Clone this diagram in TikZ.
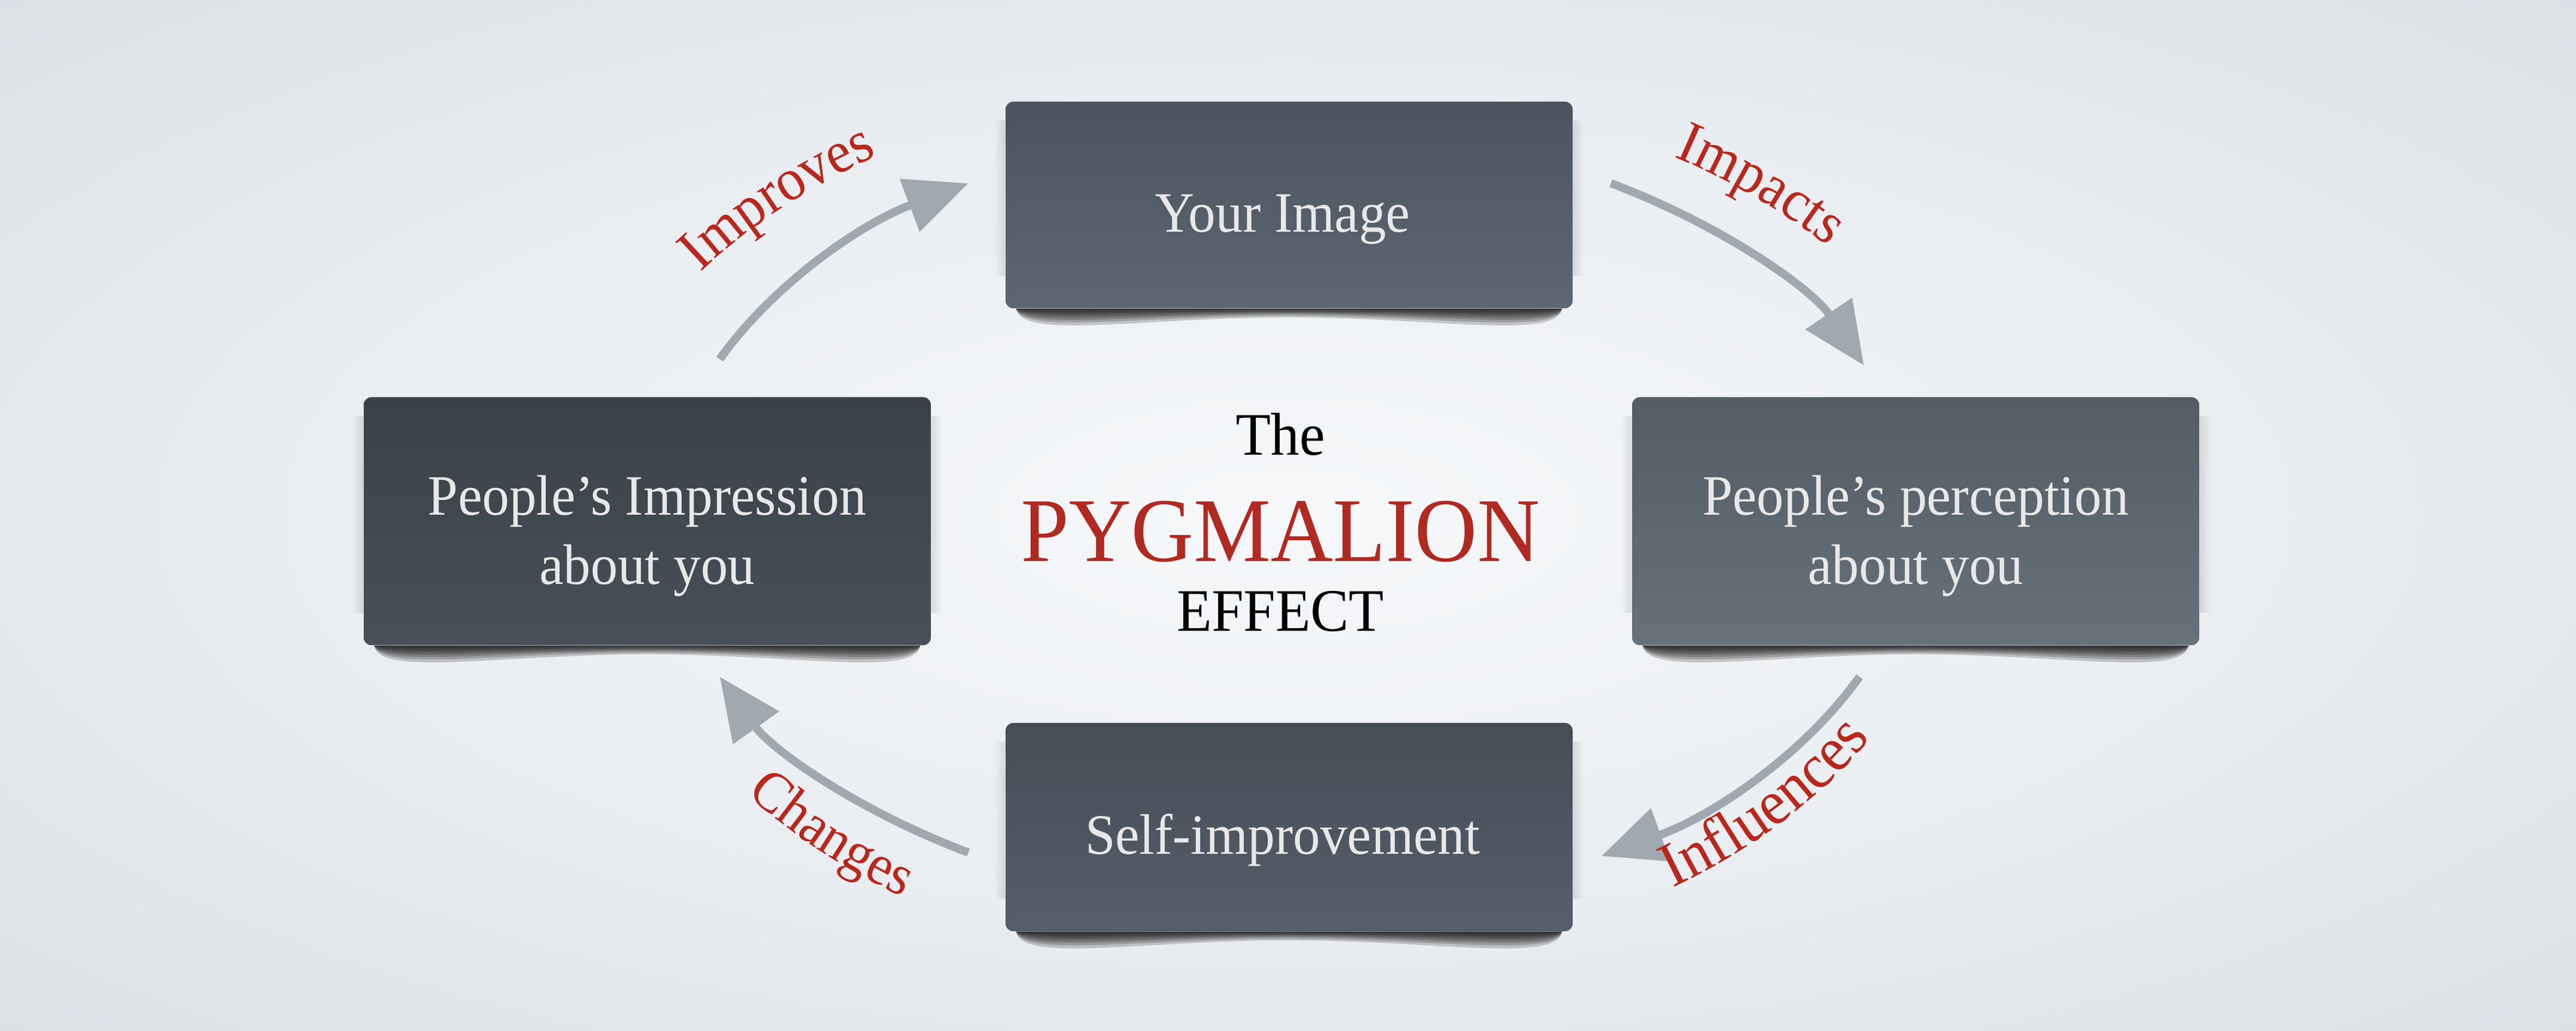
\documentclass[tikz,border=0pt]{standalone}
\usepackage{fontspec}
\setmainfont[FakeStretch=0.95]{Liberation Serif}
\usetikzlibrary{arrows.meta,decorations.text,fadings}

\definecolor{bgedge}{HTML}{C9D0D8}
\definecolor{bgmid}{HTML}{F6F8FA}
\definecolor{imgcol}{HTML}{5C6773}
\definecolor{percol}{HTML}{66717A}
\definecolor{imprcol}{HTML}{474F58}
\definecolor{selfcol}{HTML}{555E6A}
\definecolor{cardtext}{HTML}{E8E8E8}
\definecolor{flowgray}{HTML}{A0A8B0}
\definecolor{tagred}{HTML}{B8281D}
\definecolor{titlered}{HTML}{B02A22}

\pgfdeclareradialshading{bgglow}{\pgfpoint{0bp}{0bp}}{color(0bp)=(bgmid); color(18bp)=(bgmid!75!bgedge); color(38bp)=(bgmid!38!bgedge); color(55bp)=(bgmid!12!bgedge); color(71bp)=(bgedge)}
\tikzfading[name=edgeleft, left color=transparent!100, right color=transparent!30]
\tikzfading[name=edgeright, left color=transparent!30, right color=transparent!100]

% shadow under and beside a card
\newcommand{\cardshadow}[1]{%
  \foreach \d/\e in {0.58/0.16, 0.48/0.13, 0.40/0.10, 0.32/0.08, 0.24/0.06, 0.17/0.04, 0.10/0.02}{%
    \fill[black, opacity=0.19]
      ([xshift=0.2cm]#1.south west)
      .. controls ([xshift=0.3cm, yshift=-\d cm]#1.south west) and ([xshift=2.5cm, yshift=-\e cm]#1.south west) ..
      ([yshift=-\e cm]#1.south)
      .. controls ([xshift=-2.5cm, yshift=-\e cm]#1.south east) and ([xshift=-0.3cm, yshift=-\d cm]#1.south east) ..
      ([xshift=-0.2cm]#1.south east) -- cycle;
  }%
  \fill[black, opacity=0.15, path fading=edgeleft] ([xshift=-0.2cm, yshift=-0.35cm]#1.north west) rectangle ([yshift=0.6cm]#1.south west);
  \fill[black, opacity=0.15, path fading=edgeright] ([yshift=-0.35cm]#1.north east) rectangle ([xshift=0.2cm, yshift=0.6cm]#1.south east);
}

\tikzset{
  card/.style={rectangle, rounded corners=4pt, minimum width=10.4cm, inner sep=0pt,
    top color=#1!82!black, middle color=#1, bottom color=#1},
  cardlabel/.style={align=center, text=cardtext, inner sep=0pt, font=\fontsize{29.8}{36}\selectfont},
  flow/.style={draw=flowgray, line width=0.15cm, -{Triangle[length=1.15cm, width=1.0cm]}},
  arclabel/.style={decorate, decoration={text along path, text align=center, text color=tagred}},
  titletext/.style={anchor=base, font=\fontsize{31.5}{36}\selectfont},
}

\begin{document}
\begin{tikzpicture}
    \useasboundingbox (0, 0) rectangle (47.24, 18.9);
    \shade[shading=bgglow] (0, 0) rectangle (47.24, 18.9);
    \coordinate (mid) at (23.65, 9.40);

    % cards
    \node[card=imgcol, minimum height=3.79cm] (image) at (23.64, 15.14) {};
    \node[card=percol, minimum height=4.55cm] (perception) at (35.13, 9.34) {};
    \node[card=imprcol, minimum height=4.55cm] (impression) at (11.87, 9.34) {};
    \node[card=selfcol, minimum height=3.82cm] (self) at (23.64, 3.73) {};
    \cardshadow{image}
    \cardshadow{perception}
    \cardshadow{impression}
    \cardshadow{self}

    \node[cardlabel] (image-text) at ([xshift=-0.12cm, yshift=-0.27cm]image.center) {Your Image};
    \node[cardlabel] (perception-text) at ([yshift=-0.27cm]perception.center) {People's perception\\about you};
    \node[cardlabel] (impression-text) at ([yshift=-0.27cm]impression.center) {People's Impression\\about you};
    \node[cardlabel] (self-text) at ([xshift=-0.12cm, yshift=-0.24cm]self.center) {Self-improvement};

    % title
    \node[titletext] (the) at (23.48, 10.55) {The};
    \node[titletext, text=titlered, font=\fontsize{47.5}{54}\selectfont] (pygmalion) at (23.48, 8.60) {PYGMALION};
    \node[titletext] (effect) at (23.48, 7.32) {EFFECT};

    % arrow ends on the ellipse round the middle
    \path (mid) ++(156:11.44cm and 7.16cm) coordinate (improves-start);
    \path (mid) ++(59:11.44cm and 7.16cm) coordinate (impacts-start);
    \path (mid) ++(-24:11.44cm and 7.16cm) coordinate (influences-start);
    \path (mid) ++(-121:11.44cm and 7.16cm) coordinate (changes-start);

    \draw[flow] (improves-start) arc[start angle=156, end angle=121, x radius=11.44cm, y radius=7.16cm];
    \draw[flow] (impacts-start) arc[start angle=59, end angle=23, x radius=11.44cm, y radius=7.16cm];
    \draw[flow] (influences-start) arc[start angle=-24, end angle=-60, x radius=11.44cm, y radius=7.16cm];
    \draw[flow] (changes-start) arc[start angle=-121, end angle=-156, x radius=11.44cm, y radius=7.16cm];

    % curved labels
    \path[arclabel, decoration={text={|\fontsize{31}{37}\selectfont|Improves}}] (mid) ++(169:12.93cm and 8.19cm) arc[start angle=169, end angle=109, x radius=12.93cm, y radius=8.19cm];
    \path[arclabel, decoration={text={|\fontsize{31}{37}\selectfont|Impacts}}] (mid) ++(74.5:12.62cm and 7.99cm) arc[start angle=74.5, end angle=14.5, x radius=12.62cm, y radius=7.99cm];
    \path[arclabel, decoration={text={|\fontsize{33}{39}\selectfont|Influences}}] (mid) ++(-69.8:12.2cm and 8.3cm) arc[start angle=-69.8, end angle=-9.8, x radius=12.2cm, y radius=8.3cm];
    \path[arclabel, decoration={text={|\fontsize{30}{36}\selectfont|Changes}}] (mid) ++(193.6:12.44cm and 8.46cm) arc[start angle=193.6, end angle=253.6, x radius=12.44cm, y radius=8.46cm];

\end{tikzpicture}
\end{document}
